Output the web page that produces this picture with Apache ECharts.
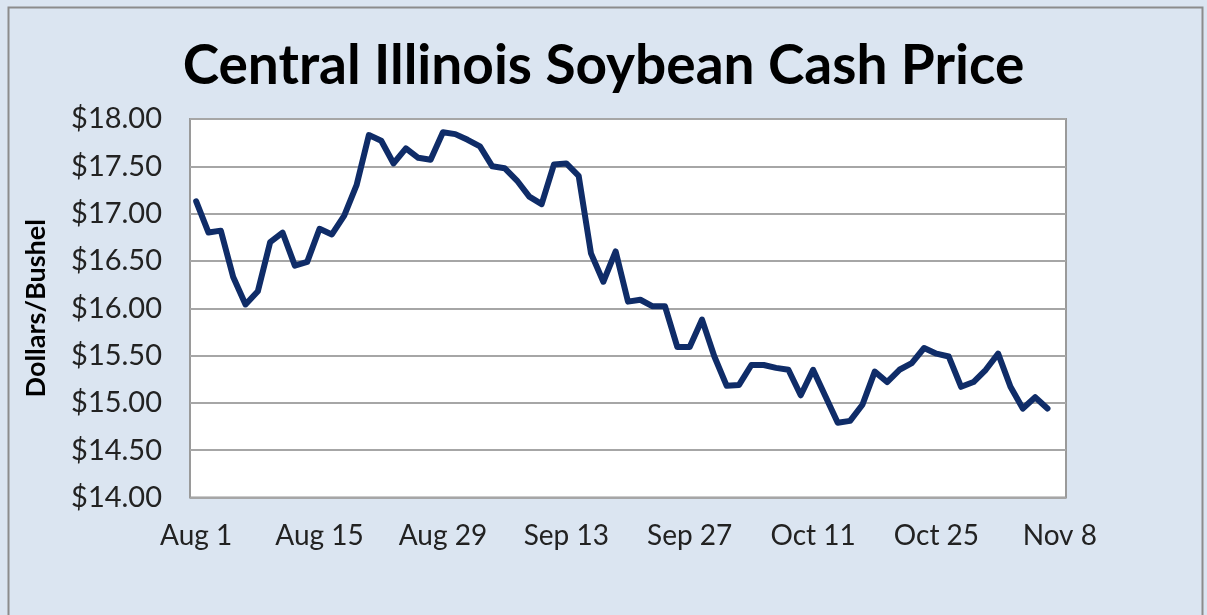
<!DOCTYPE html>
<html>
<head>
<meta charset="utf-8">
<script src="https://cdn.jsdelivr.net/npm/echarts@6/dist/echarts.min.js"></script>
<style>
html,body{margin:0;padding:0;background:#dbe5f1;}
#c{width:1207px;height:615px;}
</style>
</head>
<body>
<div id="c"></div>
<script>
const categories = [
 "Aug 1","Aug 2","Aug 3","Aug 6","Aug 7","Aug 8","Aug 9","Aug 10","Aug 13","Aug 14",
 "Aug 15","Aug 16","Aug 17","Aug 20","Aug 21","Aug 22","Aug 23","Aug 24","Aug 27","Aug 28",
 "Aug 29","Aug 30","Aug 31","Sep 4","Sep 5","Sep 6","Sep 7","Sep 10","Sep 11","Sep 12",
 "Sep 13","Sep 14","Sep 17","Sep 18","Sep 19","Sep 20","Sep 21","Sep 24","Sep 25","Sep 26",
 "Sep 27","Sep 28","Oct 1","Oct 2","Oct 3","Oct 4","Oct 5","Oct 8","Oct 9","Oct 10",
 "Oct 11","Oct 12","Oct 15","Oct 16","Oct 17","Oct 18","Oct 19","Oct 22","Oct 23","Oct 24",
 "Oct 25","Oct 26","Oct 29","Oct 30","Oct 31","Nov 1","Nov 2","Nov 5","Nov 6","Nov 7",
 "Nov 8"
];
const prices = [
 17.13,16.80,16.82,16.33,16.04,16.18,16.70,16.80,16.45,16.49,
 16.84,16.78,16.98,17.30,17.83,17.77,17.53,17.69,17.59,17.57,
 17.86,17.84,17.78,17.71,17.50,17.48,17.35,17.18,17.10,17.52,
 17.53,17.40,16.58,16.28,16.60,16.07,16.09,16.02,16.02,15.59,
 15.59,15.88,15.49,15.18,15.19,15.40,15.40,15.37,15.35,15.08,
 15.35,15.07,14.79,14.81,14.98,15.33,15.22,15.35,15.42,15.58,
 15.52,15.49,15.17,15.22,15.35,15.52,15.17,14.94,15.06,14.94,
 null
];
const yTicks = { min: 14, max: 18, step: 0.5 };
const titleText = "Central Illinois Soybean Cash Price";
const yName = "Dollars/Bushel";

const chart = echarts.init(document.getElementById('c'), null, {renderer:'canvas'});
chart.setOption({
  backgroundColor: '#dbe5f1',
  animation: false,
  title: {
    text: titleText, left: 'center', top: 34,
    textStyle: { fontFamily: 'Lato', fontWeight: 'bold', fontSize: 55, color: '#000' }
  },
  graphic: [{
    type: 'rect', silent: true,
    shape: { x: 8.5, y: 7.5, width: 1194, height: 640 },
    style: { fill: 'none', stroke: '#8c8c8c', lineWidth: 2 }
  }],
  grid: {
    left: 190, top: 119, right: 141, bottom: 117.5,
    show: true, backgroundColor: '#ffffff', borderColor: '#9a9a9a', borderWidth: 2
  },
  xAxis: {
    type: 'category', data: categories, boundaryGap: true,
    axisLine: { show: false },
    axisTick: { show: false },
    axisLabel: {
      interval: 9, margin: 24, color: '#222',
      fontFamily: 'Lato', fontSize: 28
    }
  },
  yAxis: {
    type: 'value', min: yTicks.min, max: yTicks.max, interval: yTicks.step,
    name: yName, nameLocation: 'middle', nameGap: 140, nameRotate: 90,
    nameTextStyle: { fontFamily: 'Lato', fontWeight: 'bold', fontSize: 27, color: '#000' },
    axisLine: { show: false },
    axisTick: { show: false },
    axisLabel: {
      margin: 28, color: '#222', fontFamily: 'Lato', fontSize: 29,
      formatter: v => '$' + v.toFixed(2)
    },
    splitLine: { lineStyle: { color: '#a6a6a6', width: 2 } }
  },
  series: [{
    type: 'line', data: prices, showSymbol: false, symbol: 'none',
    lineStyle: { color: '#0f2c68', width: 6, join: 'round', cap: 'round' },
    connectNulls: false
  }]
});
</script>
</body>
</html>
